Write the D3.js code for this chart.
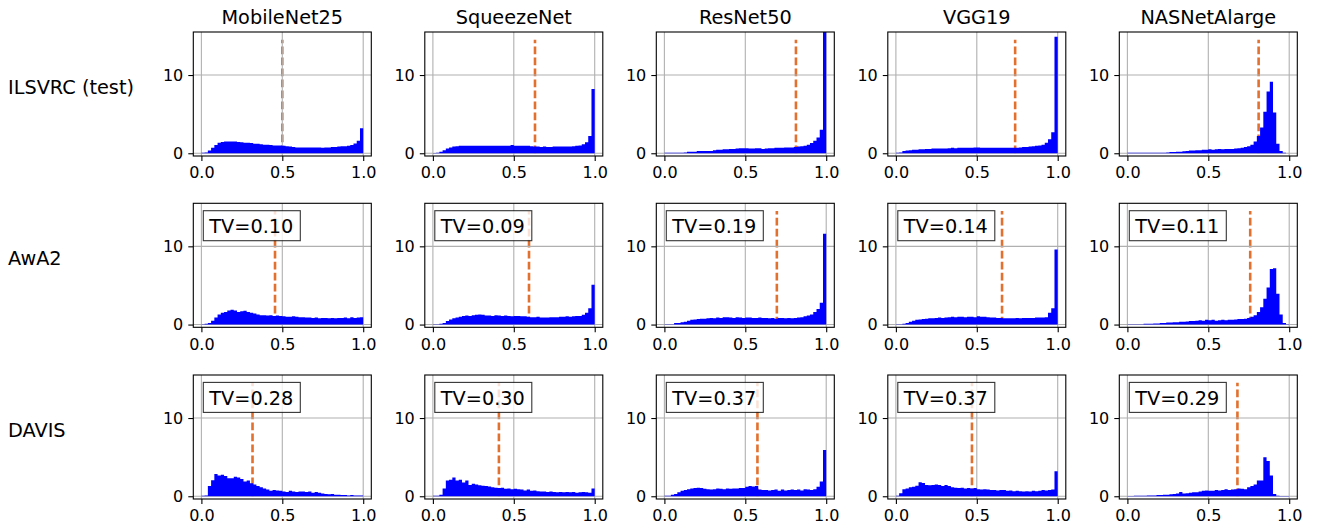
<!DOCTYPE html>
<html>
<head>
<meta charset="utf-8">
<script src="https://cdn.jsdelivr.net/npm/d3@7"></script>
<style>
  body { margin: 0; background: #fff; }
  text { font-family: "DejaVu Sans", sans-serif; }
</style>
</head>
<body>
<div id="chart"></div>
<script>
const models = ['MobileNet25', 'SqueezeNet', 'ResNet50', 'VGG19', 'NASNetAlarge'];
const datasets = ['ILSVRC (test)', 'AwA2', 'DAVIS'];

// dashed line positions (per dataset, per model)
const thr_ilsvrc = [0.50, 0.631, 0.813, 0.737, 0.811];
const thr_awa2 = [0.455, 0.594, 0.695, 0.656, 0.759];
const thr_davis = [0.316, 0.408, 0.575, 0.47, 0.68];

// total variation labels (no box on the ILSVRC row)
const tv_awa2 = [0.10, 0.09, 0.19, 0.14, 0.11];
const tv_davis = [0.28, 0.30, 0.37, 0.37, 0.29];

const bin_width = 0.02;

// density histograms, 50 bins on [0, 1]
const ilsvrc_mobilenet = [0.05,0.1,0.35,0.7,1.05,1.35,1.45,1.5,1.5,1.5,1.5,1.45,1.4,1.35,1.35,1.3,1.2,1.2,1.15,1.1,1.1,1.05,1.0,1.0,1.0,0.95,0.9,0.85,0.8,0.75,0.75,0.75,0.75,0.75,0.75,0.75,0.75,0.7,0.75,0.75,0.8,0.8,0.85,0.9,0.9,0.95,1.05,1.25,1.6,3.2];
const ilsvrc_squeezenet = [0.03,0.05,0.2,0.4,0.6,0.75,0.85,0.9,0.95,0.95,0.95,0.95,0.95,0.95,0.95,0.95,0.95,0.95,0.95,0.95,0.95,0.95,0.95,0.95,1.05,0.95,0.95,0.95,0.95,0.95,0.9,0.85,0.85,0.8,0.85,0.8,0.8,0.85,0.85,0.85,0.85,0.85,0.85,0.9,0.95,1.0,1.15,1.4,2.2,8.2];
const ilsvrc_resnet = [0.05,0.05,0.05,0.05,0.05,0.05,0.1,0.2,0.2,0.2,0.3,0.3,0.3,0.3,0.3,0.4,0.45,0.45,0.5,0.5,0.55,0.55,0.6,0.65,0.65,0.65,0.6,0.6,0.65,0.65,0.55,0.6,0.65,0.65,0.7,0.7,0.7,0.75,0.75,0.75,0.8,0.85,0.9,0.95,1.1,1.3,1.6,2.0,3.0,18];
const ilsvrc_vgg = [0.05,0.1,0.3,0.35,0.4,0.45,0.45,0.5,0.5,0.55,0.55,0.6,0.6,0.6,0.6,0.6,0.65,0.7,0.65,0.7,0.7,0.7,0.7,0.7,0.75,0.75,0.7,0.7,0.7,0.7,0.7,0.7,0.7,0.7,0.7,0.7,0.7,0.7,0.75,0.8,0.8,0.85,0.9,0.95,1.0,1.1,1.35,1.8,2.7,14.9];
const ilsvrc_nasnet = [0.05,0.05,0.05,0.05,0.05,0.05,0.05,0.05,0.05,0.05,0.05,0.05,0.1,0.15,0.15,0.2,0.2,0.25,0.3,0.35,0.35,0.4,0.4,0.45,0.45,0.5,0.45,0.5,0.55,0.5,0.55,0.55,0.55,0.6,0.65,0.7,0.8,0.9,1.1,1.5,2.2,3.3,5.3,7.9,9.15,5.2,1.2,0.3,0.05,0];

const awa2_mobilenet = [0.05,0.1,0.2,0.5,0.9,1.3,1.5,1.6,1.8,1.9,1.8,1.6,1.7,1.75,1.6,1.5,1.4,1.3,1.2,1.2,1.15,1.2,1.1,1.15,1.1,1.05,1.0,1.0,1.05,1.0,0.95,0.95,0.9,0.9,0.85,0.9,0.8,0.85,0.85,0.8,0.85,0.8,0.85,0.85,0.9,0.8,0.95,0.85,0.9,0.95];
const awa2_squeezenet = [0.03,0.05,0.1,0.2,0.45,0.65,0.8,0.9,1.0,1.1,1.15,1.1,1.2,1.25,1.3,1.25,1.15,1.15,1.1,1.2,1.15,1.1,1.15,1.1,1.05,1.1,1.1,1.05,1.05,1.0,0.95,0.95,1.0,0.9,0.9,0.9,0.95,0.95,0.95,1.0,1.0,1.05,1.0,1.05,1.1,1.1,1.25,1.5,2.1,5.1];
const awa2_resnet = [0.03,0.05,0.05,0.2,0.2,0.3,0.35,0.5,0.6,0.65,0.7,0.75,0.75,0.8,0.85,0.8,0.9,0.85,0.95,0.95,0.9,0.85,0.95,0.9,0.85,0.9,0.9,0.85,0.85,0.9,0.85,0.85,0.8,0.85,0.75,0.85,0.85,0.8,0.85,0.8,0.85,0.9,0.95,1.05,1.15,1.3,1.6,2.0,2.8,11.6];
const awa2_vgg = [0.03,0.05,0.1,0.2,0.35,0.5,0.6,0.65,0.7,0.75,0.8,0.8,0.85,0.9,0.85,0.9,0.95,1.0,0.95,1.0,1.0,0.95,1.0,1.0,0.95,1.05,1.0,1.0,0.95,0.9,0.9,0.85,0.85,0.8,0.8,0.8,0.8,0.85,0.8,0.85,0.85,0.85,0.85,0.9,0.9,0.9,0.95,1.5,2.1,9.6];
const awa2_nasnet = [0.03,0.03,0.05,0.05,0.05,0.1,0.1,0.1,0.15,0.15,0.2,0.2,0.25,0.25,0.3,0.3,0.35,0.35,0.4,0.45,0.45,0.5,0.55,0.5,0.6,0.55,0.6,0.5,0.55,0.6,0.55,0.6,0.6,0.65,0.7,0.7,0.75,0.85,1.0,1.2,1.6,2.2,3.3,4.75,7.1,7.2,3.95,1.3,0.2,0.05];

const davis_mobilenet = [0.05,0.1,1.3,2.05,2.85,2.65,2.75,2.6,2.3,2.3,2.5,2.4,2.2,1.9,2.0,1.65,1.5,1.3,1.15,1.0,0.85,0.7,0.8,0.75,0.7,0.6,0.55,0.7,0.6,0.55,0.6,0.6,0.55,0.6,0.45,0.55,0.45,0.35,0.3,0.25,0.3,0.2,0.2,0.15,0.15,0.1,0.15,0.1,0.1,0.1];
const davis_squeezenet = [0.05,0.05,0.2,1.0,2.0,2.1,2.4,2.0,2.1,1.75,2.0,1.45,1.6,1.5,1.4,1.35,1.3,1.25,1.15,1.1,1.05,1.1,0.95,1.0,0.9,0.95,0.9,0.85,0.75,0.85,0.7,0.75,0.65,0.6,0.6,0.55,0.6,0.55,0.5,0.55,0.5,0.55,0.5,0.55,0.45,0.5,0.55,0.5,0.45,1.0];
const davis_resnet = [0.05,0.05,0.2,0.3,0.5,0.7,0.8,0.9,1.0,1.05,1.1,1.05,0.95,0.9,0.85,0.9,1.0,0.95,0.9,1.0,0.95,1.0,1.0,1.05,1.05,1.2,1.3,1.25,1.3,0.85,0.8,0.8,0.75,0.8,0.85,0.7,0.85,0.75,0.8,0.85,0.8,0.85,0.75,0.9,0.85,0.8,0.9,1.2,1.9,5.9];
const davis_vgg = [0.05,0.4,0.9,1.0,1.15,1.2,1.35,1.8,1.7,1.45,1.4,1.45,1.5,1.45,1.3,1.45,1.3,1.15,1.1,1.05,1.1,1.0,1.05,1.0,1.05,0.9,0.85,0.9,0.85,0.8,0.8,0.75,0.8,0.8,0.7,0.75,0.65,0.7,0.65,0.6,0.65,0.6,0.7,0.65,0.7,0.8,0.75,0.8,0.85,3.2];
const davis_nasnet = [0.03,0.03,0.05,0.05,0.05,0.05,0.1,0.1,0.1,0.15,0.15,0.2,0.2,0.25,0.3,0.35,0.55,0.35,0.4,0.45,0.5,0.5,0.6,0.7,0.75,0.7,0.7,0.8,0.75,0.8,0.9,0.8,0.85,0.9,1.0,0.95,0.9,1.15,1.3,1.5,2.0,2.0,5.0,4.5,2.65,0.3,0.05,0.03,0.02,0.02];

const hists = [
    [ilsvrc_mobilenet, ilsvrc_squeezenet, ilsvrc_resnet, ilsvrc_vgg, ilsvrc_nasnet],
    [awa2_mobilenet, awa2_squeezenet, awa2_resnet, awa2_vgg, awa2_nasnet],
    [davis_mobilenet, davis_squeezenet, davis_resnet, davis_vgg, davis_nasnet]
];
const thresholds = [thr_ilsvrc, thr_awa2, thr_davis];
const tvs = [null, tv_awa2, tv_davis];

const chart_width = 1317;
const chart_height = 528;

// panel geometry
const panel_w = 178;
const panel_h = 124;
const col_x = [193.3, 424.8, 656.3, 887.8, 1119.3];
const row_y = [32, 203.3, 375];

const svg = d3.select('#chart')
    .append('svg')
    .attr('width', chart_width)
    .attr('height', chart_height);

const x_scale = d3.scaleLinear().domain([-0.05, 1.05]).range([0, panel_w]);
const y_scale = d3.scaleLinear().domain([-0.35, 15.5]).range([panel_h, 0]);

const grid_color = '#b0b0b0';
const dash_color = '#e2702f';

// histogram outline as one stepped area, so neighbouring bars show no seams
const hist_area = d3.area()
    .x(d => x_scale(d.x))
    .y0(y_scale(0))
    .y1(d => y_scale(d.y))
    .curve(d3.curveStepAfter);

function to_steps(values) {
    const pts = values.map((v, i) => ({ x: i * bin_width, y: v }));
    pts.push({ x: values.length * bin_width, y: values[values.length - 1] });
    return pts;
}

// column titles
svg.selectAll('.title')
    .data(models)
    .enter()
    .append('text')
    .attr('x', (d, i) => col_x[i] + panel_w / 2)
    .attr('y', row_y[0] - 8)
    .attr('text-anchor', 'middle')
    .attr('font-size', 19.3)
    .text(d => d);

// row labels
svg.selectAll('.rowlabel')
    .data(datasets)
    .enter()
    .append('text')
    .attr('x', 8)
    .attr('y', (d, i) => row_y[i] + panel_h / 2)
    .attr('font-size', 19.3)
    .text(d => d);

datasets.forEach((ds, r) => {
    models.forEach((m, c) => {
        const g = svg.append('g')
            .attr('transform', `translate(${col_x[c]},${row_y[r]})`);
        const clip_id = `clip-${r}-${c}`;
        g.append('clipPath').attr('id', clip_id)
            .append('rect').attr('width', panel_w).attr('height', panel_h);

        const inner = g.append('g').attr('clip-path', `url(#${clip_id})`);

        // dashed threshold
        const t = thresholds[r][c];
        inner.append('line')
            .attr('x1', x_scale(t)).attr('x2', x_scale(t))
            .attr('y1', y_scale(0)).attr('y2', y_scale(14.5))
            .attr('stroke', dash_color)
            .attr('stroke-width', 2.6)
            .attr('stroke-dasharray', '7.7,3.3');

        // grid
        inner.selectAll('.gx')
            .data([0, 0.5, 1])
            .enter()
            .append('line')
            .attr('x1', d => x_scale(d)).attr('x2', d => x_scale(d))
            .attr('y1', 0).attr('y2', panel_h)
            .attr('stroke', grid_color).attr('stroke-width', 1.1);
        inner.selectAll('.gy')
            .data([0, 10])
            .enter()
            .append('line')
            .attr('y1', d => y_scale(d)).attr('y2', d => y_scale(d))
            .attr('x1', 0).attr('x2', panel_w)
            .attr('stroke', grid_color).attr('stroke-width', 1.1);

        // bars
        inner.append('path')
            .datum(to_steps(hists[r][c]))
            .attr('d', hist_area)
            .attr('fill', '#0000ff');

        // axes
        const ax_x = g.append('g')
            .attr('transform', `translate(0,${panel_h})`)
            .call(d3.axisBottom(x_scale).tickValues([0, 0.5, 1]).tickFormat(d3.format('.1f')).tickSize(5).tickPadding(6));
        const ax_y = g.append('g')
            .call(d3.axisLeft(y_scale).tickValues([0, 10]).tickFormat(d3.format('d')).tickSize(5).tickPadding(5));
        [ax_x, ax_y].forEach(a => {
            a.select('.domain').remove();
            a.selectAll('line').attr('stroke', '#000').attr('stroke-width', 1.1);
            a.selectAll('text')
                .attr('font-size', 16)
                .attr('font-family', '"DejaVu Sans", sans-serif')
                .attr('fill', '#000');
        });

        g.append('rect')
            .attr('width', panel_w).attr('height', panel_h)
            .attr('fill', 'none')
            .attr('stroke', '#000')
            .attr('stroke-width', 1.1);

        // TV box
        if (tvs[r]) {
            const box = g.append('g').attr('transform', 'translate(10,7.4)');
            box.append('rect')
                .attr('width', 97).attr('height', 30)
                .attr('fill', '#fff').attr('fill-opacity', 0.8)
                .attr('stroke', '#000').attr('stroke-opacity', 0.8)
                .attr('stroke-width', 1.1);
            box.append('text')
                .attr('x', 6)
                .attr('y', 22.5)
                .attr('font-size', 19.3)
                .text('TV=' + d3.format('.2f')(tvs[r][c]));
        }
    });
});
</script>
</body>
</html>
